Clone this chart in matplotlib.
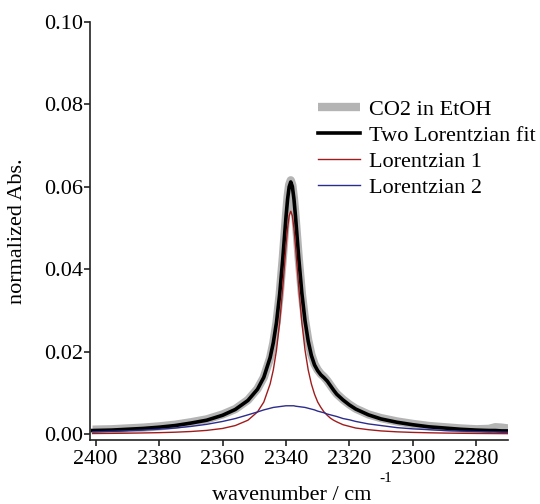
import matplotlib
matplotlib.use('Agg')
import matplotlib.pyplot as plt

plt.rcParams['font.family'] = ['Liberation Serif', 'DejaVu Serif']

# %% data
wavenumber = [2401, 2395, 2390, 2385, 2380, 2375, 2370, 2365, 2360, 2356, 2352, 2349,
              2347, 2345, 2344, 2343, 2342, 2341, 2340, 2339.5, 2339, 2338.5, 2338,
              2337.5, 2337, 2336, 2335, 2334, 2333, 2332, 2331, 2330, 2329, 2328,
              2327, 2326, 2325, 2324, 2322, 2320, 2318, 2314, 2310, 2305, 2300, 2295,
              2290, 2285, 2280, 2276, 2274, 2272, 2270]

co2_etoh = [0.0011, 0.0012, 0.0014, 0.0016, 0.0019, 0.0023, 0.0029, 0.0036, 0.0048, 0.0061,
            0.0083, 0.0110, 0.0138, 0.0185, 0.0221, 0.0270, 0.0338, 0.0428, 0.0530, 0.0575,
            0.0605, 0.0616, 0.0604, 0.0572, 0.0528, 0.0428, 0.0341, 0.0276, 0.0228, 0.0193,
            0.0170, 0.0156, 0.0146, 0.0139, 0.0130, 0.0119, 0.0108, 0.0098, 0.0084, 0.0072,
            0.0062, 0.0048, 0.0039, 0.0031, 0.0025, 0.0020, 0.0017, 0.0014, 0.0012, 0.0013,
            0.0017, 0.0016, 0.0014]

fit = [0.0009, 0.0010, 0.0012, 0.0014, 0.0017, 0.0021, 0.0027, 0.0034, 0.0046, 0.0060,
       0.0082, 0.0109, 0.0138, 0.0186, 0.0222, 0.0271, 0.0339, 0.0427, 0.0527, 0.0570,
       0.0600, 0.0612, 0.0601, 0.0571, 0.0528, 0.0429, 0.0342, 0.0275, 0.0226, 0.0191,
       0.0168, 0.0154, 0.0144, 0.0137, 0.0129, 0.0118, 0.0107, 0.0097, 0.0083, 0.0071,
       0.0061, 0.0047, 0.0037, 0.0029, 0.0023, 0.0018, 0.0015, 0.0012, 0.0010, 0.0009,
       0.0009, 0.0008, 0.0008]

lor1 = [0.00017, 0.00021, 0.00025, 0.00031, 0.00038, 0.00049, 0.00066, 0.00093, 0.0014, 0.0021,
        0.0034, 0.0054, 0.0078, 0.0122, 0.0156, 0.0204, 0.0271, 0.0358, 0.0457, 0.0500,
        0.0530, 0.0541, 0.0530, 0.0500, 0.0457, 0.0358, 0.0271, 0.0204, 0.0156, 0.0122,
        0.0097, 0.0078, 0.0065, 0.0054, 0.0046, 0.0039, 0.0034, 0.0030, 0.0023, 0.0019,
        0.0015, 0.0011, 0.0008, 0.00058, 0.00044, 0.00035, 0.00028, 0.00023, 0.00019, 0.00017,
        0.00016, 0.00015, 0.00014]

lor2 = [0.00059, 0.00071, 0.00084, 0.00101, 0.00122, 0.0015, 0.00189, 0.0024, 0.0031, 0.0038,
        0.0047, 0.0054, 0.0059, 0.0063, 0.0065, 0.0066, 0.0067, 0.0068, 0.0069, 0.0069,
        0.0069, 0.0069, 0.0069, 0.0069, 0.0068, 0.0067, 0.0066, 0.0065, 0.0063, 0.0061,
        0.0059, 0.0056, 0.0054, 0.0052, 0.0049, 0.0047, 0.0045, 0.0043, 0.0038, 0.0035,
        0.0031, 0.0025, 0.0021, 0.0016, 0.0013, 0.0011, 0.0009, 0.00076, 0.00065, 0.00058,
        0.00054, 0.00051, 0.00049]

xticks = [2400, 2380, 2360, 2340, 2320, 2300, 2280]
yticks = [0.00, 0.02, 0.04, 0.06, 0.08, 0.10]

# %% plot
fig = plt.figure(figsize=(5.4, 5.04), dpi=100)
ax = fig.add_axes([0.1667, 0.127, 0.774, 0.8293])

ax.plot(wavenumber, co2_etoh, color='#b4b4b4', lw=6, solid_capstyle='butt', label='CO2 in EtOH')
ax.plot(wavenumber, fit, color='black', lw=2.6, label='Two Lorentzian fit')
ax.plot(wavenumber, lor1, color='#a01c1c', lw=1.0, label='Lorentzian 1')
ax.plot(wavenumber, lor2, color='#2c2c8c', lw=1.0, label='Lorentzian 2')

ax.set_xlim(2401.8, 2270)
ax.set_ylim(-0.0014, 0.10)
ax.set_xticks(xticks)
ax.set_yticks(yticks)
ax.set_yticklabels([f'{v:.2f}' for v in yticks])

for s in ['top', 'right']:
    ax.spines[s].set_visible(False)
for s in ['left', 'bottom']:
    ax.spines[s].set_linewidth(1.2)
    ax.spines[s].set_color('#222222')
ax.tick_params(direction='out', length=4, width=1.2, color='#222222', labelsize=16)
ax.tick_params(axis='x', pad=3)
ax.tick_params(axis='y', pad=1)

# x label with a raised, small "-1"
fig.text(292 / 540, 1 - 500 / 504, 'wavenumber / cm', fontsize=16, ha='center', va='baseline')
fig.text(379 / 540, 1 - 482 / 504, '-1', fontsize=11, ha='left', va='baseline')
ax.set_ylabel('normalized Abs.', fontsize=16, labelpad=12)

ax.legend(loc='upper left', bbox_to_anchor=(0.545, 0.815), frameon=False, fontsize=16,
          handlelength=1.9, handletextpad=0.4, labelspacing=0.24, borderpad=0, borderaxespad=0)

fig.savefig('out.png', dpi=100)
